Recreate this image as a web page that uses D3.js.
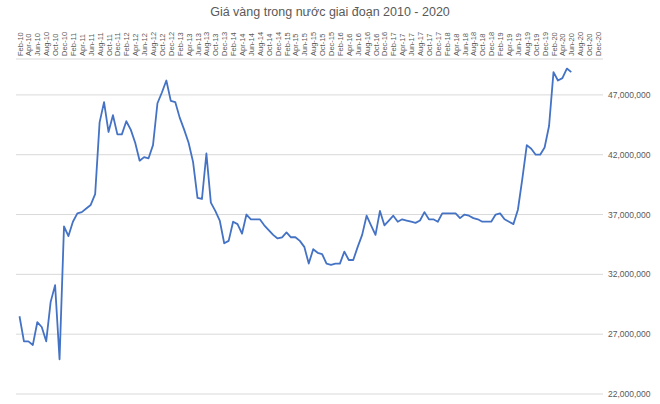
<!DOCTYPE html>
<html><head><meta charset="utf-8">
<script src="https://cdn.jsdelivr.net/npm/d3@7"></script>
<style>body{margin:0;background:#fff}text{font-family:"Liberation Sans",Arial,sans-serif}</style>
</head><body><svg id="c" width="660" height="404"></svg>
<script>
const title = "Giá vàng trong nước giai đoạn 2010 - 2020";
const monthNames = ["Jan","Feb","Mar","Apr","May","Jun","Jul","Aug","Sep","Oct","Nov","Dec"];
// categories Feb-10 .. Dec-20
const categories = [];
for (let y = 10; y <= 20; y++) for (let m = 0; m < 12; m++) { if (y === 10 && m === 0) continue; categories.push(monthNames[m] + "-" + y); }
const prices = [28.5,26.4,26.4,26.1,28.0,27.6,26.4,29.7,31.1,24.9,36.0,
35.2,36.4,37.1,37.2,37.5,37.8,38.7,44.7,46.4,43.9,45.3,43.7,
43.7,44.8,44.1,43.0,41.5,41.8,41.7,42.8,46.3,47.2,48.2,46.5,
46.4,45.1,44.1,43.0,41.4,38.4,38.3,42.1,38.0,37.3,36.5,34.6,
34.8,36.4,36.2,35.4,37.0,36.6,36.6,36.6,36.1,35.7,35.3,35.0,
35.1,35.5,35.1,35.1,34.8,34.3,32.9,34.1,33.8,33.7,32.9,32.8,
32.9,32.9,33.9,33.2,33.2,34.3,35.3,36.9,36.1,35.3,37.3,36.1,
36.5,36.9,36.4,36.6,36.5,36.4,36.3,36.5,37.2,36.6,36.6,36.4,
37.1,37.1,37.1,37.1,36.7,37.0,36.9,36.7,36.6,36.4,36.4,36.4,
37.0,37.1,36.6,36.4,36.2,37.4,40.0,42.8,42.5,42.0,42.0,42.6,
44.4,48.9,48.2,48.4,49.2,48.9].map(v => v * 1e6);
const yTicks = [22e6,27e6,32e6,37e6,42e6,47e6];

const svg = d3.select("#c");
const x = d3.scalePoint().domain(categories).range([19.5, 598]);
const y = d3.scaleLinear().domain([22e6, 50e6]).range([394, 59]);

svg.append("text").attr("x", 330).attr("y", 16).attr("text-anchor","middle")
  .attr("font-size", 12.5).attr("fill","#595959").text(title);

svg.append("g").selectAll("line").data(yTicks.concat([50e6])).join("line")
  .attr("x1", 16).attr("x2", 603).attr("y1", d => y(d)).attr("y2", d => y(d))
  .attr("stroke", "#d9d9d9").attr("stroke-width", 1);

svg.append("g").selectAll("text").data(yTicks).join("text")
  .attr("x", 608).attr("y", d => y(d) + 3).attr("font-size", 8.5).attr("fill","#595959")
  .text(d => d3.format(",")(d));

svg.append("g").selectAll("text").data(categories.filter((d,i) => i % 2 === 0)).join("text")
  .attr("transform", d => `translate(${x(d) + 3},56) rotate(-90)`)
  .attr("font-size", 7.5).attr("fill","#595959").text(d => d);

svg.append("path").datum(prices)
  .attr("fill","none").attr("stroke","#4472c4").attr("stroke-width",1.8).attr("stroke-linejoin","round")
  .attr("d", d3.line().x((d,i) => x(categories[i])).y(d => y(d)));
</script></body></html>
